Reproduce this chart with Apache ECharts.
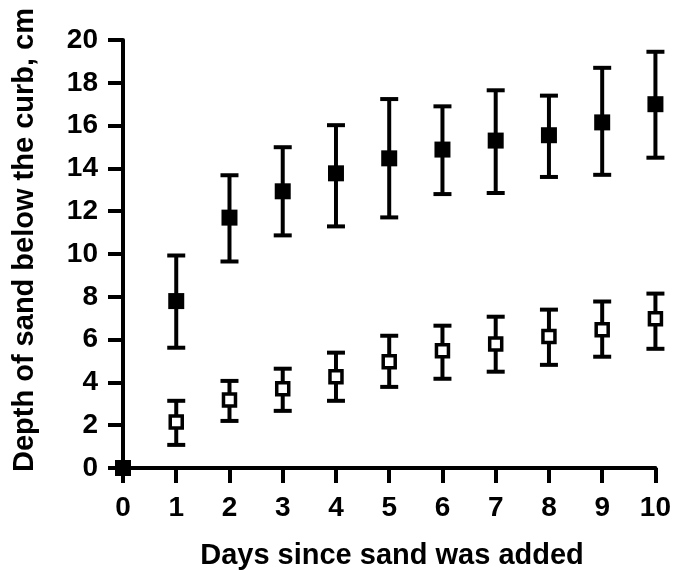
<!DOCTYPE html>
<html>
<head>
<meta charset="utf-8">
<script src="https://cdn.jsdelivr.net/npm/echarts@6/dist/echarts.min.js"></script>
<style>
  html, body { margin: 0; padding: 0; background: #fff; }
  #chart { width: 674px; height: 570px; }
</style>
</head>
<body>
<div id="chart"></div>
<script>
// days on the x axis
const days = [0, 1, 2, 3, 4, 5, 6, 7, 8, 9, 10];

// filled squares: mean and error bar ends (cm)
const filledMean  = [0, 7.8, 11.7, 12.93, 13.77, 14.47, 14.88, 15.3, 15.55, 16.15, 17.0];
const filledUpper = [0, 9.93, 13.68, 14.99, 16.02, 17.24, 16.9, 17.65, 17.4, 18.7, 19.45];
const filledLower = [0, 5.62, 9.65, 10.87, 11.29, 11.71, 12.8, 12.85, 13.6, 13.7, 14.5];

// open squares
const openMean  = [0, 2.15, 3.18, 3.7, 4.26, 4.96, 5.48, 5.8, 6.14, 6.46, 6.98];
const openUpper = [0, 3.14, 4.07, 4.64, 5.39, 6.18, 6.65, 7.07, 7.4, 7.78, 8.15];
const openLower = [0, 1.08, 2.2, 2.67, 3.14, 3.79, 4.17, 4.5, 4.82, 5.2, 5.57];

const yTicks = [0, 2, 4, 6, 8, 10, 12, 14, 16, 18, 20];

const font = '"Liberation Sans", Arial, sans-serif';

function errData(lower, upper) {
  return days.map((d, i) => [d, lower[i], upper[i]]);
}

function renderErr(params, api) {
  const x = api.value(0);
  const lo = api.value(1);
  const hi = api.value(2);
  if (hi === lo) return null;
  const pLo = api.coord([x, lo]);
  const pHi = api.coord([x, hi]);
  const cap = 9;
  const style = { stroke: '#000', lineWidth: 4 };
  return {
    type: 'group',
    children: [
      { type: 'line', shape: { x1: pLo[0], y1: pLo[1], x2: pHi[0], y2: pHi[1] }, style: style },
      { type: 'line', shape: { x1: pHi[0] - cap, y1: pHi[1], x2: pHi[0] + cap, y2: pHi[1] }, style: style },
      { type: 'line', shape: { x1: pLo[0] - cap, y1: pLo[1], x2: pLo[0] + cap, y2: pLo[1] }, style: style }
    ]
  };
}

const chart = echarts.init(document.getElementById('chart'));

chart.setOption({
  animation: false,
  backgroundColor: '#fff',
  grid: { left: 123, right: 17, top: 40, bottom: 102 },
  xAxis: {
    type: 'value',
    min: 0,
    max: 10,
    interval: 1,
    splitLine: { show: false },
    axisLine: { lineStyle: { color: '#000', width: 4 } },
    axisTick: { length: 15, lineStyle: { color: '#000', width: 4 } },
    axisLabel: { color: '#000', fontFamily: font, fontWeight: 'bold', fontSize: 28, margin: 26 }
  },
  yAxis: {
    type: 'value',
    min: 0,
    max: 20,
    interval: 2,
    splitLine: { show: false },
    axisLine: { show: true, lineStyle: { color: '#000', width: 4 } },
    axisTick: { show: true, length: 15, lineStyle: { color: '#000', width: 4 } },
    axisLabel: {
      color: '#000', fontFamily: font, fontWeight: 'bold', fontSize: 28, margin: 25,
      formatter: v => (yTicks.indexOf(v) >= 0 ? String(v) : '')
    }
  },
  graphic: [
    {
      type: 'text',
      x: 392,
      y: 556,
      style: {
        text: 'Days since sand was added',
        font: 'bold 29px ' + font,
        fill: '#000',
        align: 'center',
        verticalAlign: 'middle'
      }
    },
    {
      type: 'text',
      x: 25,
      y: 240,
      rotation: Math.PI / 2,
      style: {
        text: 'Depth of sand below the curb, cm',
        font: 'bold 29px ' + font,
        fill: '#000',
        align: 'center',
        verticalAlign: 'middle'
      }
    }
  ],
  series: [
    {
      type: 'custom',
      renderItem: renderErr,
      data: errData(openLower, openUpper),
      clip: false,
      z: 2
    },
    {
      type: 'scatter',
      data: days.map((d, i) => [d, openMean[i]]),
      symbol: 'rect',
      symbolSize: 12,
      itemStyle: { color: '#fff', borderColor: '#000', borderWidth: 3.5, opacity: 1 },
      clip: false,
      z: 3
    },
    {
      type: 'custom',
      renderItem: renderErr,
      data: errData(filledLower, filledUpper),
      clip: false,
      z: 4
    },
    {
      type: 'scatter',
      data: days.map((d, i) => [d, filledMean[i]]),
      symbol: 'rect',
      symbolSize: 16,
      itemStyle: { color: '#000', opacity: 1 },
      clip: false,
      z: 5
    }
  ]
});
</script>
</body>
</html>
